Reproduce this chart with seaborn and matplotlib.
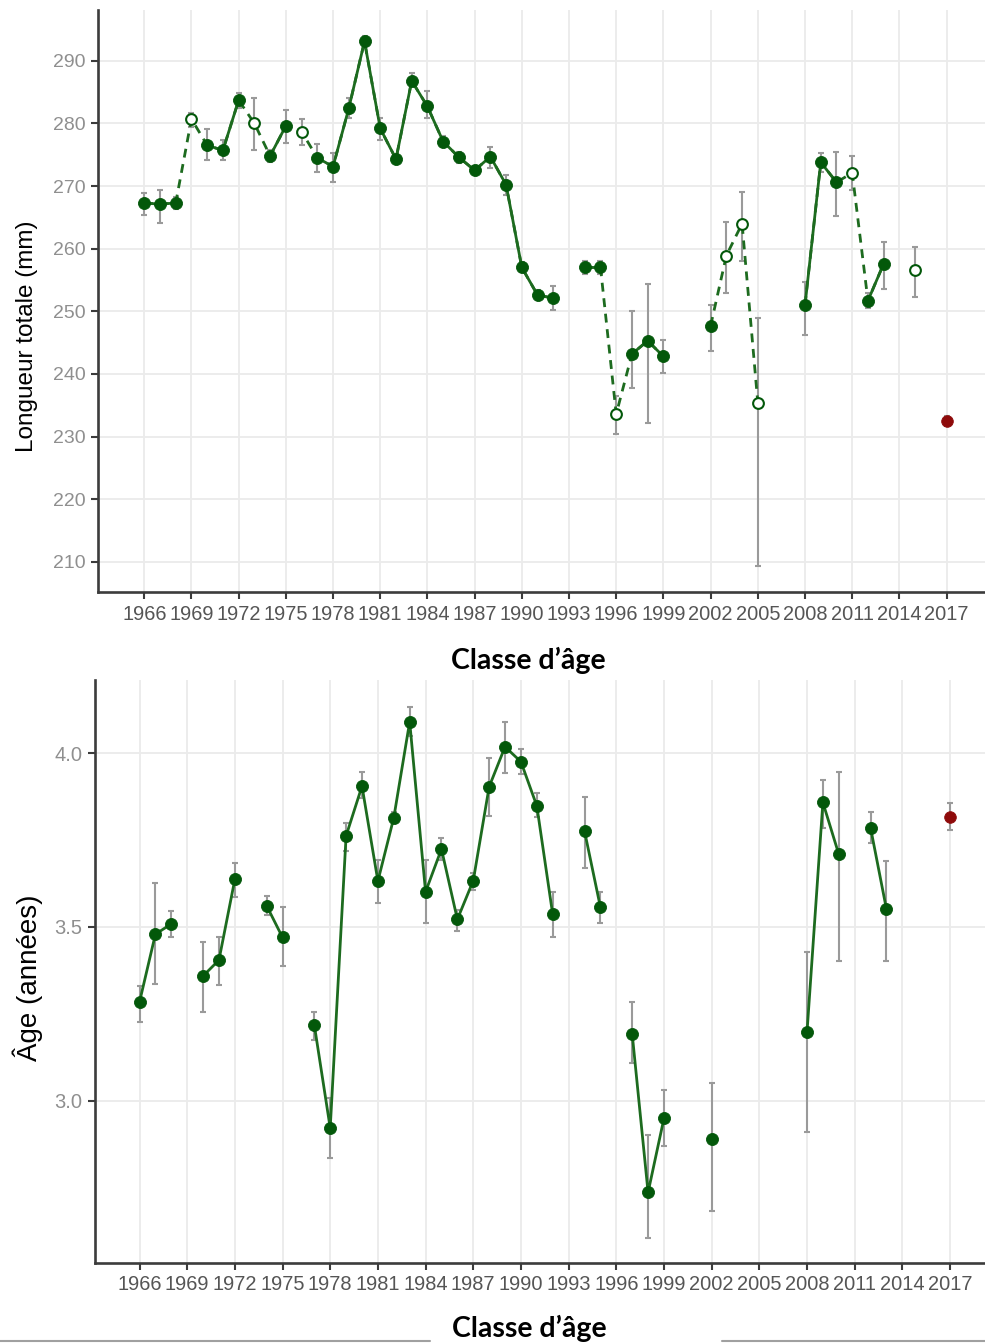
import numpy as np
import pandas as pd
import matplotlib
matplotlib.use("Agg")
import matplotlib.pyplot as plt
from matplotlib.lines import Line2D
import seaborn as sns

# --- Longueur totale (mm) par classe d'âge : moyenne et intervalle ---
annees_long = [1966, 1967, 1968, 1969, 1970, 1971, 1972, 1973, 1974, 1975,
               1976, 1977, 1978, 1979, 1980, 1981, 1982, 1983, 1984, 1985,
               1986, 1987, 1988, 1989, 1990, 1991, 1992, 1994, 1995, 1996,
               1997, 1998, 1999, 2002, 2003, 2004, 2005, 2008, 2009, 2010,
               2011, 2012, 2013, 2015, 2017]
long_moy = [267.3, 267.1, 267.3, 280.7, 276.5, 275.7, 283.7, 280.0, 274.8, 279.6,
            278.7, 274.5, 273.1, 282.4, 293.1, 279.2, 274.3, 286.8, 282.7, 277.1,
            274.6, 272.5, 274.7, 270.2, 257.0, 252.6, 252.1, 257.0, 257.0, 233.6,
            243.2, 245.3, 242.8, 247.7, 258.9, 264.0, 235.4, 251.0, 273.8, 270.6,
            272.1, 251.7, 257.6, 256.6, 232.5]
long_bas = [265.4, 264.1, 266.3, 279.5, 274.2, 274.2, 282.4, 275.8, 273.9, 276.9,
            276.6, 272.2, 270.7, 280.8, 292.3, 277.4, 273.8, 285.9, 280.8, 276.2,
            273.7, 271.8, 272.9, 268.6, 256.2, 251.8, 250.2, 256.0, 256.0, 230.5,
            237.7, 232.1, 240.2, 243.6, 252.9, 258.0, 209.3, 246.2, 272.3, 265.2,
            269.4, 250.5, 253.5, 252.3, 231.7]
long_haut = [268.9, 269.4, 268.3, 281.6, 279.1, 277.4, 284.8, 284.0, 275.8, 282.2,
             280.7, 276.7, 275.3, 284.0, 293.9, 280.8, 274.8, 288.1, 285.1, 278.0,
             275.5, 273.2, 276.3, 271.8, 257.8, 253.4, 254.1, 258.0, 258.0, 236.5,
             250.0, 254.3, 245.4, 251.0, 264.3, 269.1, 248.9, 254.7, 275.3, 275.5,
             274.8, 253.0, 261.1, 260.3, 233.3]
# classes d'âge à faible effectif (symbole creux)
annees_long_creux = [1969, 1973, 1976, 1996, 2003, 2004, 2005, 2011, 2015]

# --- Âge moyen (années) par classe d'âge ---
annees_age = [1966, 1967, 1968, 1970, 1971, 1972, 1974, 1975, 1977, 1978,
              1979, 1980, 1981, 1982, 1983, 1984, 1985, 1986, 1987, 1988,
              1989, 1990, 1991, 1992, 1994, 1995, 1997, 1998, 1999, 2002,
              2008, 2009, 2010, 2012, 2013, 2017]
age_moy = [3.284, 3.479, 3.509, 3.359, 3.405, 3.637, 3.561, 3.470, 3.218, 2.922,
           3.762, 3.905, 3.632, 3.814, 4.090, 3.601, 3.724, 3.522, 3.633, 3.903,
           4.018, 3.975, 3.848, 3.536, 3.776, 3.557, 3.193, 2.737, 2.950, 2.891,
           3.197, 3.858, 3.709, 3.785, 3.551, 3.817]
age_bas = [3.227, 3.336, 3.472, 3.256, 3.333, 3.587, 3.534, 3.389, 3.175, 2.836,
           3.719, 3.870, 3.570, 3.800, 4.050, 3.511, 3.693, 3.489, 3.606, 3.819,
           3.942, 3.939, 3.815, 3.472, 3.669, 3.511, 3.108, 2.605, 2.869, 2.684,
           2.910, 3.784, 3.403, 3.741, 3.403, 3.779]
age_haut = [3.330, 3.625, 3.546, 3.456, 3.472, 3.683, 3.589, 3.558, 3.256, 3.009,
            3.798, 3.946, 3.693, 3.830, 4.133, 3.693, 3.755, 3.549, 3.654, 3.985,
            4.090, 4.013, 3.884, 3.601, 3.873, 3.601, 3.285, 2.902, 3.032, 3.051,
            3.429, 3.922, 3.946, 3.831, 3.691, 3.857]

annee_recente = 2017
ticks_annees = list(range(1966, 2018, 3))
ticks_long = [210, 220, 230, 240, 250, 260, 270, 280, 290]
ticks_age = [3.0, 3.5, 4.0]

VERT = "#03580a"
VERT_LIGNE = "#1d6b1f"
ROUGE = "#8e0a0a"
GRIS_BARRE = "#9a9a9a"
GRIS_AXE = "#3c3c3c"


def tableau(annees, moy, bas, haut, creux=()):
    df = pd.DataFrame({"annee": annees, "valeur": moy, "bas": bas, "haut": haut})
    df["type"] = np.where(df["annee"].isin(creux), "creux", "plein")
    df.loc[df["annee"] == annee_recente, "type"] = "recent"
    return df


def troncons(df):
    # numéro de tronçon : une nouvelle ligne commence après chaque année manquante
    d = df.sort_values("annee").copy()
    d["troncon"] = (d["annee"].diff() != 1).cumsum()
    return d


def tracer(ax, df, pointilles):
    ax.errorbar(df["annee"], df["valeur"],
                yerr=[df["valeur"] - df["bas"], df["haut"] - df["valeur"]],
                fmt="none", ecolor=GRIS_BARRE, elinewidth=1.5,
                capsize=2.5, capthick=1.5, zorder=2)
    verts = df[df["type"] != "recent"]
    pleins = df[df["type"] == "plein"]
    if pointilles:
        sns.lineplot(data=troncons(verts), x="annee", y="valeur", units="troncon",
                     estimator=None, color=VERT_LIGNE, linewidth=2.0,
                     linestyle=(0, (3.2, 2.4)), legend=False, ax=ax, zorder=3)
    sns.lineplot(data=troncons(pleins), x="annee", y="valeur", units="troncon",
                 estimator=None, color=VERT_LIGNE, linewidth=2.0,
                 legend=False, ax=ax, zorder=3)
    sns.scatterplot(data=pleins, x="annee", y="valeur", color=VERT, s=75,
                    edgecolor=VERT, linewidth=0.6, legend=False, ax=ax, zorder=5)
    creux = df[df["type"] == "creux"]
    if len(creux):
        sns.scatterplot(data=creux, x="annee", y="valeur", facecolor="white", s=60,
                        edgecolor=VERT, linewidth=1.5, legend=False, ax=ax, zorder=5)
    rec = df[df["type"] == "recent"]
    sns.scatterplot(data=rec, x="annee", y="valeur", color=ROUGE, s=70,
                    edgecolor=ROUGE, linewidth=0.6, legend=False, ax=ax, zorder=5)


def habiller(ax, xlim, ylim, yticks, ytick_fmt, ytick_size):
    ax.set_xlim(*xlim)
    ax.set_ylim(*ylim)
    ax.set_xticks(ticks_annees)
    ax.set_xticklabels([str(a) for a in ticks_annees])
    ax.set_yticks(yticks)
    ax.set_yticklabels([ytick_fmt.format(v) for v in yticks])
    ax.grid(True, color="#ebebeb", linewidth=1.3)
    ax.set_axisbelow(True)
    for s in ("top", "right"):
        ax.spines[s].set_visible(False)
    for s in ("left", "bottom"):
        ax.spines[s].set_color(GRIS_AXE)
        ax.spines[s].set_linewidth(1.9)
    ax.tick_params(axis="both", which="major", bottom=True, left=True,
                   direction="out", length=5, width=1.5, color=GRIS_AXE)
    ax.tick_params(axis="x", labelsize=14.4, labelcolor="#555555", pad=4)
    ax.tick_params(axis="y", labelsize=ytick_size, labelcolor="#8f8f8f", pad=4)


sns.set_theme(style="whitegrid")
plt.rcParams["font.family"] = ["Liberation Sans", "DejaVu Sans"]

fig = plt.figure(figsize=(9.85, 13.44), dpi=100)
W, H = 985, 1344
ax1 = fig.add_axes([98 / W, 1 - 592 / H, (W - 98) / W, (592 - 10) / H])
ax2 = fig.add_axes([95 / W, 1 - 1263 / H, (W - 95) / W, (1263 - 680) / H])

df_long = tableau(annees_long, long_moy, long_bas, long_haut, annees_long_creux)
df_age = tableau(annees_age, age_moy, age_bas, age_haut)

tracer(ax1, df_long, pointilles=True)
tracer(ax2, df_age, pointilles=False)

habiller(ax1, (1963.06, 2019.44), (205.2, 298.1), ticks_long, "{:.0f}", 14)
habiller(ax2, (1963.2, 2019.2), (2.534, 4.21), ticks_age, "{:.1f}", 14.5)

titre_x = dict(fontsize=20.5, fontweight="bold", family=["Lato", "DejaVu Sans"],
               color="black")
for ax, (cx, cy) in ((ax1, (0.485, -0.117)), (ax2, (0.488, -0.113))):
    ax.set_xlabel("Classe d’âge", **titre_x)
    ax.xaxis.set_label_coords(cx, cy)
    ax.xaxis.label.set_verticalalignment("center")

ax1.set_ylabel("Longueur totale (mm)", fontsize=17.5, color="black")
ax1.yaxis.set_label_coords(-0.080, 0.44)
ax1.yaxis.label.set_verticalalignment("center")
ax2.set_ylabel("Âge (années)", fontsize=20, color="black")
ax2.yaxis.set_label_coords(-0.0753, 0.489)
ax2.yaxis.label.set_verticalalignment("center")

# filet gris en pied de page, interrompu derrière le titre
for x0, x1 in ((0, 430), (722, W)):
    fig.add_artist(Line2D([x0 / W, x1 / W], [1 - 1341 / H] * 2,
                          color="#a0a0a0", linewidth=1.5))

fig.savefig("out.png", dpi=100)
